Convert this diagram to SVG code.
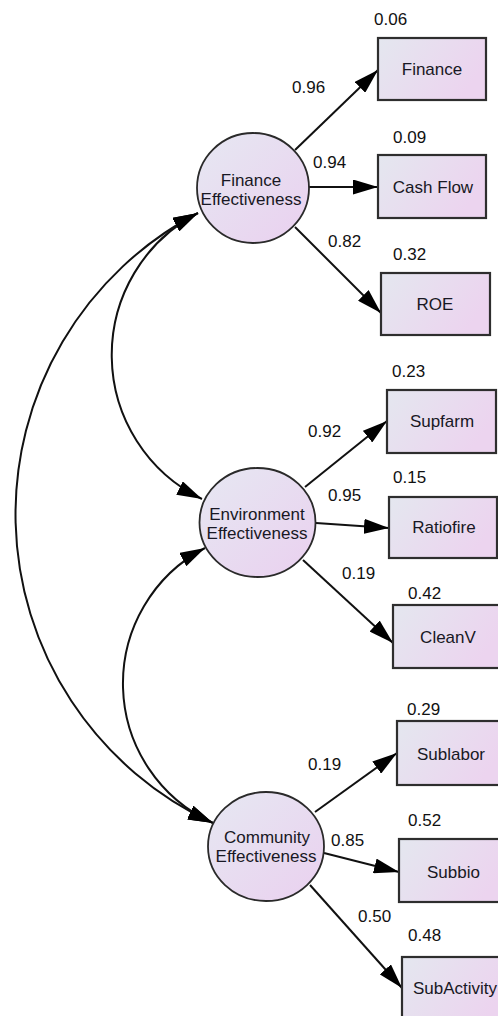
<svg xmlns="http://www.w3.org/2000/svg" width="498" height="1016" viewBox="0 0 498 1016">
  <defs>
    <linearGradient id="boxFill" x1="0" y1="0" x2="1" y2="0.4">
      <stop offset="0" stop-color="#e4e7ef"/>
      <stop offset="1" stop-color="#ecd4ef"/>
    </linearGradient>
    <linearGradient id="latentFill" x1="0" y1="0" x2="1" y2="1">
      <stop offset="0" stop-color="#e6e8f2"/>
      <stop offset="1" stop-color="#ead0ef"/>
    </linearGradient>
    <marker id="head" markerUnits="userSpaceOnUse" markerWidth="25" markerHeight="15" refX="25" refY="7.5" orient="auto-start-reverse" viewBox="0 0 25 15">
      <path d="M0,0 L25,7.5 L0,15 Z" fill="#000"/>
    </marker>
  </defs>
  <style>
    .box { fill: url(#boxFill); stroke: #2e2e2e; stroke-width: 2.2; }
    .latent { fill: url(#latentFill); stroke: #2a2a2a; stroke-width: 1.8; }
    .name { font-family: "Liberation Sans", Arial, sans-serif; font-size: 17px; fill: #181824; text-anchor: middle; }
    .coef { font-family: "Liberation Sans", Arial, sans-serif; font-size: 17px; fill: #111; }
    .path { fill: none; stroke: #111; stroke-width: 2; marker-end: url(#head); }
    .cov { fill: none; stroke: #111; stroke-width: 2; marker-start: url(#head); marker-end: url(#head); }
  </style>
  <rect width="498" height="1016" fill="#fff"/>

  <!-- connectors: loadings and covariances -->
  <g id="connectors">
    <path class="cov" d="M198,213 A340,340 0 0 0 213,823"/>
    <path class="cov" d="M198,213 A160,160 0 0 0 202,499"/>
    <path class="cov" d="M205,548 A153,153 0 0 0 213,823"/>

    <line class="path" x1="295" y1="150" x2="378" y2="70"/>
    <line class="path" x1="309" y1="187" x2="378" y2="187"/>
    <line class="path" x1="295" y1="227" x2="381" y2="313"/>

    <line class="path" x1="305" y1="487" x2="387" y2="421"/>
    <line class="path" x1="316" y1="523" x2="389" y2="528"/>
    <line class="path" x1="303" y1="560" x2="393" y2="643"/>

    <line class="path" x1="315" y1="812" x2="397" y2="753"/>
    <line class="path" x1="324" y1="853" x2="399" y2="872"/>
    <line class="path" x1="310" y1="885" x2="402" y2="988"/>

    <text class="coef" x="292" y="93">0.96</text>
    <text class="coef" x="313" y="168">0.94</text>
    <text class="coef" x="328" y="247">0.82</text>
    <text class="coef" x="308" y="437">0.92</text>
    <text class="coef" x="328" y="501">0.95</text>
    <text class="coef" x="342" y="579">0.19</text>
    <text class="coef" x="308" y="770">0.19</text>
    <text class="coef" x="331" y="846">0.85</text>
    <text class="coef" x="358" y="922">0.50</text>
  </g>

  <!-- latent factors -->
  <g id="finance-effectiveness">
    <ellipse class="latent" cx="253" cy="188" rx="56" ry="55"/>
    <text class="name" x="251" y="186">Finance</text>
    <text class="name" x="251" y="205">Effectiveness</text>
  </g>
  <g id="environment-effectiveness">
    <ellipse class="latent" cx="257.5" cy="522.5" rx="58" ry="54.5"/>
    <text class="name" x="257" y="520">Environment</text>
    <text class="name" x="257" y="539">Effectiveness</text>
  </g>
  <g id="community-effectiveness">
    <ellipse class="latent" cx="266" cy="846.5" rx="58" ry="54.5"/>
    <text class="name" x="267" y="843">Community</text>
    <text class="name" x="266" y="862">Effectiveness</text>
  </g>

  <!-- observed indicators -->
  <g id="finance">
    <rect class="box" x="378" y="38" width="108" height="62"/>
    <text class="name" x="432" y="75">Finance</text>
    <text class="coef" x="374" y="25">0.06</text>
  </g>
  <g id="cash-flow">
    <rect class="box" x="378" y="155" width="108" height="63"/>
    <text class="name" x="433" y="193">Cash Flow</text>
    <text class="coef" x="393" y="143">0.09</text>
  </g>
  <g id="roe">
    <rect class="box" x="381" y="273" width="109" height="62"/>
    <text class="name" x="435" y="310">ROE</text>
    <text class="coef" x="393" y="260">0.32</text>
  </g>
  <g id="supfarm">
    <rect class="box" x="387" y="390" width="109" height="63"/>
    <text class="name" x="442" y="427">Supfarm</text>
    <text class="coef" x="392" y="377">0.23</text>
  </g>
  <g id="ratiofire">
    <rect class="box" x="389" y="497" width="108" height="61"/>
    <text class="name" x="444" y="533">Ratiofire</text>
    <text class="coef" x="393" y="483">0.15</text>
  </g>
  <g id="cleanv">
    <rect class="box" x="393" y="605" width="108" height="63"/>
    <text class="name" x="448" y="643">CleanV</text>
    <text class="coef" x="408" y="599">0.42</text>
  </g>
  <g id="sublabor">
    <rect class="box" x="397" y="721" width="108" height="64"/>
    <text class="name" x="451" y="760">Sublabor</text>
    <text class="coef" x="407" y="715">0.29</text>
  </g>
  <g id="subbio">
    <rect class="box" x="399" y="839" width="108" height="63"/>
    <text class="name" x="453.5" y="878">Subbio</text>
    <text class="coef" x="408" y="826">0.52</text>
  </g>
  <g id="subactivity">
    <rect class="box" x="402" y="957" width="108" height="63"/>
    <text class="name" x="455" y="994">SubActivity</text>
    <text class="coef" x="408" y="941">0.48</text>
  </g>
</svg>
